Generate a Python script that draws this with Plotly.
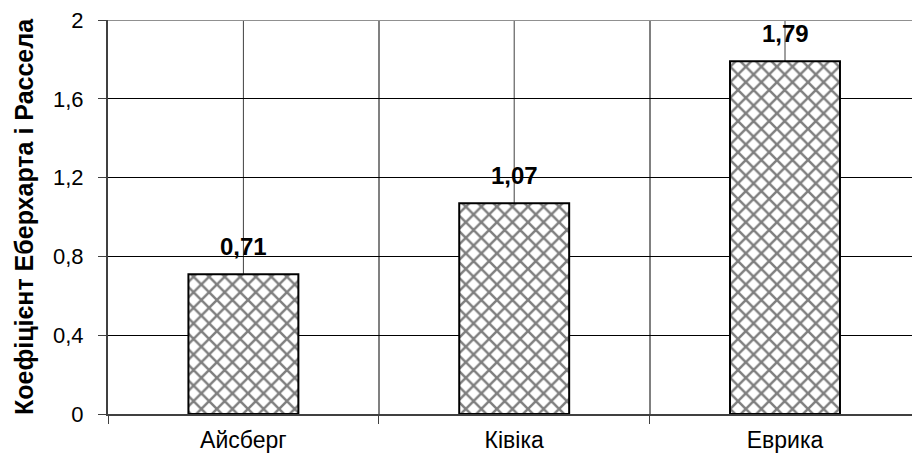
import plotly.graph_objects as go

categories = ["Айсберг", "Ківіка", "Еврика"]
values = [0.71, 1.07, 1.79]
value_labels = ["0,71", "1,07", "1,79"]
y_tickvals = [0, 0.4, 0.8, 1.2, 1.6, 2.0]
y_ticktext = ["0", "0,4", "0,8", "1,2", "1,6", "2"]
y_title = "Коефіцієнт Еберхарта і Рассела"

FONT = "Arial, Liberation Sans, sans-serif"

fig = go.Figure()
fig.add_trace(go.Bar(
    x=categories, y=values, width=0.406,
    marker=dict(color="white", line=dict(color="black", width=2),
                pattern=dict(shape="x", fgcolor="black", bgcolor="white", size=11, solidity=0.4)),
    showlegend=False,
))

for c, v, t in zip(categories, values, value_labels):
    fig.add_annotation(x=c, y=v, text="<b>%s</b>" % t, showarrow=False,
                       yanchor="bottom", yshift=12,
                       font=dict(family=FONT, size=24, color="black"))

# center vertical lines
for c in categories:
    fig.add_shape(type="line", xref="x", yref="paper", x0=c, x1=c, y0=0, y1=1,
                  line=dict(color="#404040", width=1), layer="below")
# top border line
fig.add_shape(type="line", xref="paper", yref="y", x0=0, x1=1, y0=2, y1=2,
              line=dict(color="#909090", width=2), layer="above")

fig.update_layout(
    width=912, height=463,
    margin=dict(l=108, r=0, t=20, b=49),
    plot_bgcolor="white", paper_bgcolor="white",
    font=dict(family=FONT, size=22, color="black"),
    xaxis=dict(range=[-0.5, 2.469], tickson="boundaries", ticks="outside", ticklen=8,
               tickcolor="#404040", showgrid=True, gridcolor="#808080", gridwidth=2,
               showline=True, linecolor="#404040", linewidth=2,
               ticklabelstandoff=4,
               tickfont=dict(family=FONT, size=23)),
    yaxis=dict(range=[0, 2], tickvals=y_tickvals, ticktext=y_ticktext,
               ticks="outside", ticklen=8, tickcolor="#404040",
               showgrid=True, gridcolor="black", gridwidth=1,
               showline=True, linecolor="#404040", linewidth=2, zeroline=False,
               ticklabelstandoff=10,
               title=dict(text="<b>%s</b>" % y_title, font=dict(family=FONT, size=25), standoff=12),
               tickfont=dict(family=FONT, size=22)),
)

fig.write_html("out.html")
